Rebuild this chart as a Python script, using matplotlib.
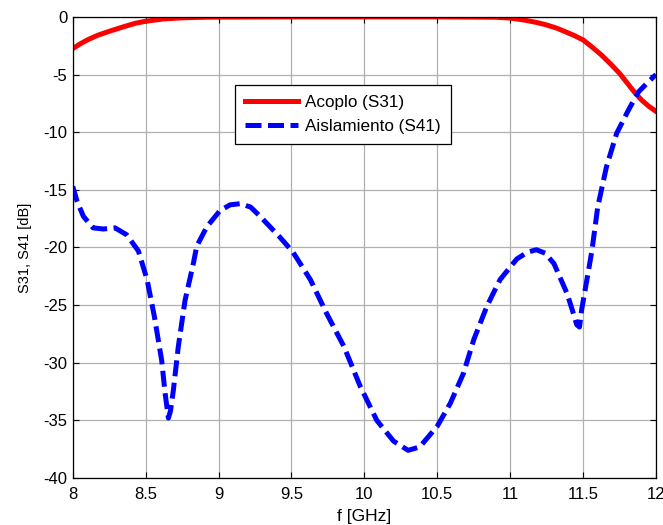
import matplotlib
matplotlib.use('Agg')
import matplotlib.pyplot as plt

plt.rcParams['font.family'] = ['Liberation Sans', 'DejaVu Sans']
plt.rcParams['axes.unicode_minus'] = False

# S31 (coupling) trace, frequency in GHz and magnitude in dB
f_s31 = [8.0, 8.05, 8.1, 8.17, 8.25, 8.35, 8.43, 8.5, 8.62, 8.75, 8.9, 9.0, 9.5, 10.0,
         10.5, 10.9, 11.0, 11.1, 11.18, 11.25, 11.32, 11.375, 11.44, 11.5, 11.56,
         11.625, 11.69, 11.75, 11.8, 11.85, 11.9, 11.95, 12.0]
s31 = [-2.75, -2.35, -2.0, -1.6, -1.25, -0.85, -0.55, -0.38, -0.18, -0.08, -0.03, -0.02,
       0.0, 0.0, 0.0, -0.03, -0.1, -0.28, -0.48, -0.7, -0.98, -1.27, -1.62, -2.0, -2.6,
       -3.3, -4.1, -4.9, -5.7, -6.5, -7.2, -7.75, -8.2]

# S41 (isolation) trace
f_s41 = [8.0, 8.03, 8.073, 8.14, 8.21, 8.29, 8.37, 8.45, 8.51, 8.56, 8.61, 8.633,
         8.656, 8.67, 8.69, 8.724, 8.77, 8.827, 8.85, 8.92, 9.01, 9.08, 9.15, 9.22,
         9.285, 9.42, 9.51, 9.63, 9.74, 9.86, 9.97, 10.085, 10.2, 10.3, 10.38, 10.5,
         10.59, 10.68, 10.75, 10.84, 10.93, 11.045, 11.12, 11.18, 11.24, 11.3, 11.39,
         11.43, 11.456, 11.475, 11.49, 11.53, 11.56, 11.6, 11.66, 11.73, 11.81, 11.88,
         11.95, 12.0]
s41 = [-14.7, -16.0, -17.3, -18.3, -18.4, -18.3, -18.9, -20.3, -22.8, -26.0, -29.8, -32.6,
       -34.8, -34.2, -32.4, -28.6, -24.6, -21.4, -19.9, -18.2, -16.8, -16.3, -16.2, -16.5,
       -17.3, -19.1, -20.4, -22.8, -25.7, -28.6, -32.0, -35.0, -36.8, -37.6, -37.3, -35.5,
       -33.5, -30.9, -28.0, -25.1, -22.8, -21.0, -20.4, -20.2, -20.5, -21.4, -24.0,
       -25.6, -26.7, -26.9, -25.4, -22.5, -20.3, -16.5, -13.0, -10.1, -8.1, -6.5,
       -5.6, -5.0]

fig = plt.figure(figsize=(6.63, 5.25), dpi=100)
ax = fig.add_axes([0.1097, 0.0895, 0.8798, 0.8783])

ax.plot(f_s31, s31, '-', color='#ff0000', linewidth=3.6, label='Acoplo (S31)')
ax.plot(f_s41, s41, '--', color='#0000ff', linewidth=3.6, dashes=(3.2, 1.3),
        label='Aislamiento (S41)')

ax.set_xlim(8, 12)
ax.set_ylim(-40, 0)
ax.set_xticks([8, 8.5, 9, 9.5, 10, 10.5, 11, 11.5, 12])
ax.set_xticklabels(['8', '8.5', '9', '9.5', '10', '10.5', '11', '11.5', '12'])
ax.set_yticks(range(-40, 1, 5))
ax.tick_params(direction='in', top=True, right=True, labelsize=12, length=4, width=0.8)
ax.tick_params(axis='x', pad=6.5)
ax.tick_params(axis='y', pad=4)
ax.grid(True, color='#b0b0b0', linewidth=0.9)
ax.set_axisbelow(True)
for s in ax.spines.values():
    s.set_linewidth(0.9)

ax.set_xlabel('f [GHz]', fontsize=12.5, labelpad=5)
ax.set_ylabel('S31, S41 [dB]', fontsize=10.5, labelpad=8)

leg = ax.legend(loc='upper left', bbox_to_anchor=(0.278, 0.852), fontsize=12.3,
                frameon=True, fancybox=False, framealpha=1, edgecolor='black',
                handlelength=3.1, borderpad=0.6, labelspacing=0.5, handletextpad=0.4,
                borderaxespad=0)
leg.get_frame().set_linewidth(0.9)

plt.savefig('out.png', dpi=100)
